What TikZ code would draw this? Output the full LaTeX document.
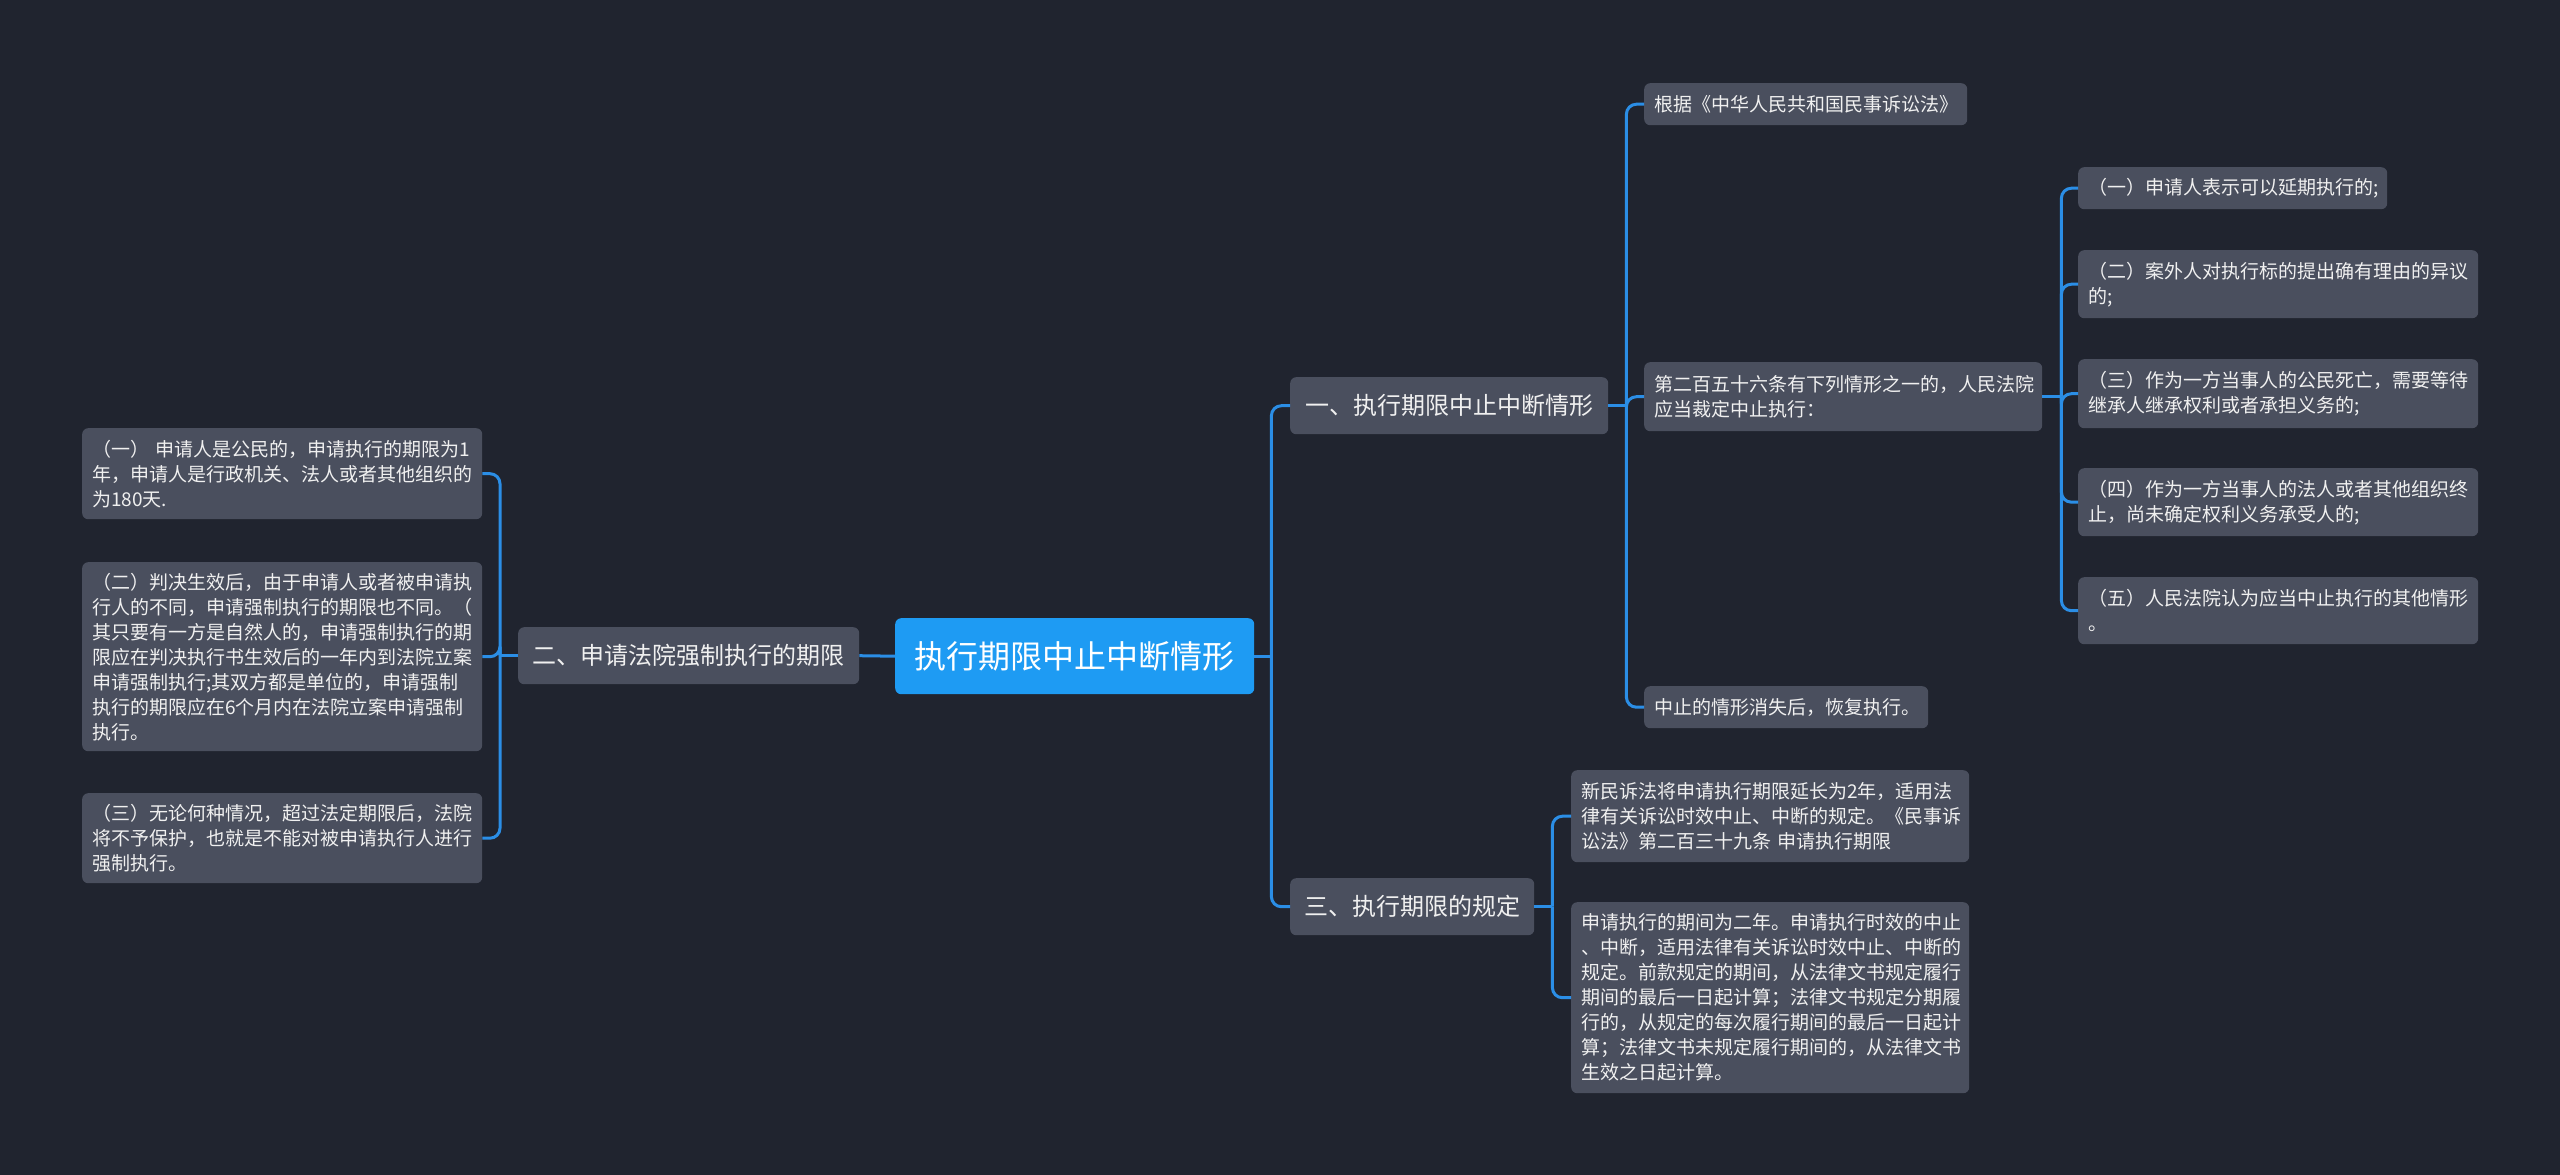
\documentclass[tikz,border=0pt]{standalone}
\usepackage{fontspec}
\newfontfamily\cjk{Noto Sans CJK SC}
\definecolor{bg}{HTML}{20242F}
\definecolor{boxc}{HTML}{4A4F5E}
\definecolor{rootc}{HTML}{1E9BF3}
\definecolor{linec}{HTML}{2B8EE6}
\definecolor{txt}{HTML}{F0F0F0}
\tikzset{
  box/.style={fill=boxc, rounded corners=6pt, text=txt, anchor=north west, inner xsep=10pt, inner ysep=0pt, align=left},
  leaf/.style={box, font=\cjk\fontsize{19}{25}\selectfont},
  mid/.style={box, font=\cjk\fontsize{24}{30}\selectfont, align=center, inner xsep=0pt},
  rootbox/.style={box, fill=rootc, text=white, font=\cjk\fontsize{32}{38}\selectfont, align=center, inner xsep=0pt},
  conn/.style={draw=linec, line width=3pt, rounded corners=10pt},
}
\begin{document}
\begin{tikzpicture}[x=1pt,y=-1pt]
\fill[bg] (0,0) rectangle (2560,1175);
\useasboundingbox (0,0) rectangle (2560,1175);

% root
\node[rootbox, minimum width=359pt, minimum height=76pt] (root) at (895,618) {执行期限中止中断情形};

% left branch
\node[mid, minimum width=341pt, minimum height=57pt] (n2) at (518,627) {二、申请法院强制执行的期限};
\node[leaf, text width=380pt, minimum height=91pt] (l1) at (82,428) {（一） 申请人是公民的，申请执行的期限为1\\年，申请人是行政机关、法人或者其他组织的\\为180天.};
\node[leaf, text width=380pt, minimum height=189pt] (l2) at (82,562) {（二）判决生效后，由于申请人或者被申请执\\行人的不同，申请强制执行的期限也不同。（\\其只要有一方是自然人的，申请强制执行的期\\限应在判决执行书生效后的一年内到法院立案\\申请强制执行;其双方都是单位的，申请强制\\执行的期限应在6个月内在法院立案申请强制\\执行。};
\node[leaf, text width=380pt, minimum height=90pt] (l3) at (82,793) {（三）无论何种情况，超过法定期限后，法院\\将不予保护，也就是不能对被申请执行人进行\\强制执行。};

% right branch level 1
\node[mid, minimum width=318pt, minimum height=57pt] (n1) at (1290,377) {一、执行期限中止中断情形};
\node[mid, minimum width=244pt, minimum height=57pt] (n3) at (1290,878) {三、执行期限的规定};

% under n1
\node[leaf, text width=303pt, minimum height=42pt] (a1) at (1644,83) {根据《中华人民共和国民事诉讼法》};
\node[leaf, text width=378pt, minimum height=69pt] (a2) at (1644,362) {第二百五十六条有下列情形之一的，人民法院\\应当裁定中止执行：};
\node[leaf, text width=264pt, minimum height=42pt] (a3) at (1644,686) {中止的情形消失后，恢复执行。};

% under a2
\node[leaf, text width=289pt, minimum height=42pt] (b1) at (2078,167) {（一）申请人表示可以延期执行的;};
\node[leaf, text width=380pt, minimum height=68pt] (b2) at (2078,250) {（二）案外人对执行标的提出确有理由的异议\\的;};
\node[leaf, text width=380pt, minimum height=69pt] (b3) at (2078,359) {（三）作为一方当事人的公民死亡，需要等待\\继承人继承权利或者承担义务的;};
\node[leaf, text width=380pt, minimum height=68pt] (b4) at (2078,468) {（四）作为一方当事人的法人或者其他组织终\\止，尚未确定权利义务承受人的;};
\node[leaf, text width=380pt, minimum height=67pt] (b5) at (2078,577) {（五）人民法院认为应当中止执行的其他情形\\。};

% under n3
\node[leaf, text width=378pt, minimum height=92pt] (c1) at (1571,770) {新民诉法将申请执行期限延长为2年，适用法\\律有关诉讼时效中止、中断的规定。《民事诉\\讼法》第二百三十九条 申请执行期限};
\node[leaf, text width=378pt, minimum height=191pt] (c2) at (1571,902) {申请执行的期间为二年。申请执行时效的中止\\、中断，适用法律有关诉讼时效中止、中断的\\规定。前款规定的期间，从法律文书规定履行\\期间的最后一日起计算；法律文书规定分期履\\行的，从规定的每次履行期间的最后一日起计\\算；法律文书未规定履行期间的，从法律文书\\生效之日起计算。};

% connectors
\path (root.east) ++(17,0) coordinate (jR);
\path (n2.west) ++(-18,0) coordinate (jL);
\path (n1.east) ++(18,0) coordinate (j1);
\path (a2.east) ++(19,0) coordinate (j2);
\path (n3.east) ++(18,0) coordinate (j3);

\draw[conn] (root.west) -- (n2.east);
\draw[conn] (n2.west) -- (jL);
\foreach \c in {l1,l2,l3} \draw[conn] (jL) |- (\c.east);

\draw[conn] (root.east) -- (jR);
\foreach \c in {n1,n3} \draw[conn] (jR) |- (\c.west);

\draw[conn] (n1.east) -- (j1);
\foreach \c in {a1,a2,a3} \draw[conn] (j1) |- (\c.west);

\draw[conn] (a2.east) -- (j2);
\foreach \c in {b1,b2,b3,b4,b5} \draw[conn] (j2) |- (\c.west);

\draw[conn] (n3.east) -- (j3);
\foreach \c in {c1,c2} \draw[conn] (j3) |- (\c.west);
\end{tikzpicture}
\end{document}
